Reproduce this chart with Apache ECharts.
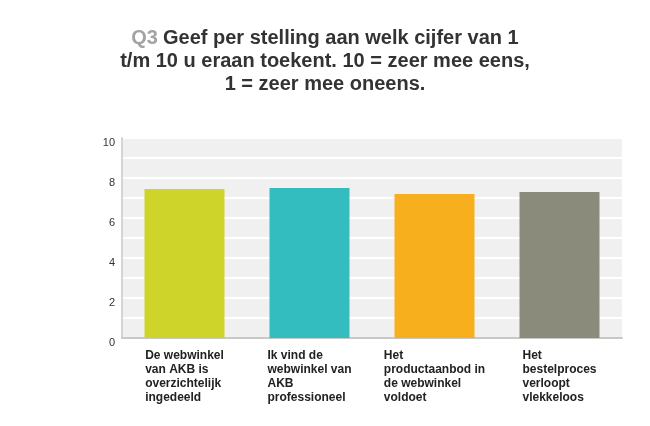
<!DOCTYPE html>
<html>
<head>
  <meta charset="utf-8">
  <title>Q3</title>
  <style>
    html, body { margin: 0; padding: 0; background: #fff; }
    #main { width: 650px; height: 426px; }
  </style>
</head>
<body>
<div id="main"></div>
<script src="https://cdn.jsdelivr.net/npm/echarts@6/dist/echarts.min.js"></script>
<script>
// stellingen (regels zoals in de as-labels)
var categories = [
  "De webwinkel\nvan AKB is\noverzichtelijk\ningedeeld",
  "Ik vind de\nwebwinkel van\nAKB\nprofessioneel",
  "Het\nproductaanbod in\nde webwinkel\nvoldoet",
  "Het\nbestelproces\nverloopt\nvlekkeloos"
];
// gemiddelde cijfers
var values = [7.45, 7.5, 7.2, 7.3];
var barColors = ["#cfd42a", "#33bdbf", "#f7af1e", "#8a8b7a"];
var titleLines = [
  "Geef per stelling aan welk cijfer van 1",
  "t/m 10 u eraan toekent. 10 = zeer mee eens,",
  "1 = zeer mee oneens."
];

var myEcharts = echarts.init(document.getElementById("main"));

myEcharts.setOption({
  animation: false,
  title: {
    left: "center",
    top: 22,
    text: "{q|Q3} " + titleLines.map(function (l) { return "{t|" + l + "}"; }).join("\n"),
    textStyle: {
      rich: {
        q: { fontFamily: "Liberation Sans", fontSize: 20, fontWeight: "bold", color: "#a3a3a3", lineHeight: 23, align: "center" },
        t: { fontFamily: "Liberation Sans", fontSize: 20, fontWeight: "bold", color: "#333333", lineHeight: 23, align: "center" }
      }
    }
  },
  grid: {
    left: 122,
    right: 28,
    top: 138,
    bottom: 88,
    show: true,
    backgroundColor: "#f0f0f0",
    borderWidth: 0
  },
  xAxis: {
    type: "category",
    data: categories,
    axisLine: { lineStyle: { color: "#c8c8c8", width: 2 } },
    axisTick: { show: false },
    axisLabel: {
      interval: 0,
      margin: 11,
      formatter: function (v) {
        return v.split("\n").map(function (l) { return "{a|" + l + "}"; }).join("\n");
      },
      rich: {
        a: { fontFamily: "Liberation Sans", fontSize: 12, fontWeight: "bold", color: "#222222", lineHeight: 14, align: "left" }
      }
    }
  },
  yAxis: {
    type: "value",
    min: 0,
    max: 10,
    interval: 2,
    axisLine: { show: true, lineStyle: { color: "#d4d4d4", width: 2 } },
    axisTick: { show: false },
    axisLabel: {
      margin: 7,
      fontFamily: "Liberation Sans",
      fontSize: 11,
      color: "#333333",
      verticalAlign: "top",
      lineHeight: 9
    },
    splitLine: { show: true, lineStyle: { color: "#ffffff", width: 2 } },
    minorTick: { show: false, splitNumber: 2 },
    minorSplitLine: { show: true, lineStyle: { color: "#ffffff", width: 2 } }
  },
  series: [{
    type: "bar",
    barWidth: 80,
    data: values.map(function (v, i) {
      return { value: v, itemStyle: { color: barColors[i] } };
    })
  }]
});
</script>
</body>
</html>
